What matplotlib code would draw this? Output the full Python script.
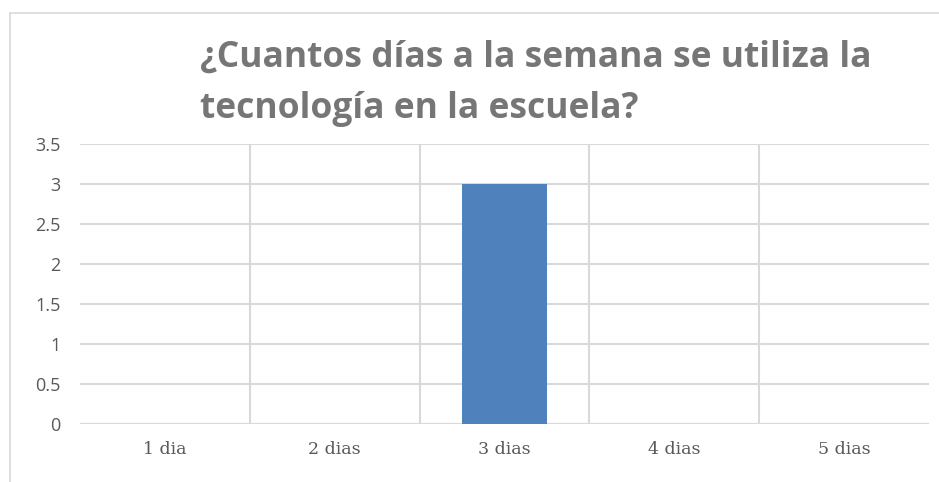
import matplotlib
matplotlib.use('Agg')
import matplotlib.pyplot as plt
from matplotlib.lines import Line2D

categories = ['1 dia', '2 dias', '3 dias', '4 dias', '5 dias']
values = [0, 0, 3, 0, 0]
yticks = [0, 0.5, 1, 1.5, 2, 2.5, 3, 3.5]
ytick_labels = ['0', '0.5', '1', '1.5', '2', '2.5', '3', '3.5']
title = '¿Cuantos días a la semana se utiliza la\ntecnología en la escuela?'

W, H = 939, 482
fig = plt.figure(figsize=(W / 100, H / 100), dpi=100)
fig.patch.set_facecolor('white')

# plot area in pixels: x 80..929, y 144..424
ax = fig.add_axes([80 / W, 1 - 424 / H, 849 / W, 280 / H])

grid_c = '#d9d9d9'
text_c = '#595959'
x = list(range(len(categories)))
ax.bar(x, values, width=0.5, color='#4f81bd', zorder=3)

ax.set_xlim(-0.5, len(categories) - 0.5)
ax.set_ylim(0, 3.5)
ax.set_yticks(yticks)
ax.set_yticklabels(ytick_labels, fontsize=13, color=text_c, family='Open Sans')
ax.set_xticks(x)
ax.set_xticklabels(categories, fontsize=12.5, color=text_c, family='DejaVu Serif')
ax.tick_params(length=0, pad=14, axis='y')
ax.tick_params(length=0, pad=12, axis='x')

ax.yaxis.grid(True, color=grid_c, linewidth=1.5, zorder=0)
for b in [i + 0.5 for i in x[:-1]]:
    ax.axvline(b, color=grid_c, linewidth=1.5, zorder=0)
for s in ax.spines.values():
    s.set_visible(False)
ax.axhline(0, color=grid_c, linewidth=1.5, zorder=1)

fig.text(200 / W, 1 - 40 / H, title, ha='left', va='top', fontsize=25.5,
         fontweight='bold', color='#767676', family='Open Sans', linespacing=1.55)

# outer chart border (top and left visible)
fig.add_artist(Line2D([10 / W, 1], [1 - 13 / H, 1 - 13 / H], color='#d9d9d9', lw=1.2,
                      transform=fig.transFigure))
fig.add_artist(Line2D([10 / W, 10 / W], [0, 1 - 13 / H], color='#d9d9d9', lw=1.2,
                      transform=fig.transFigure))

fig.savefig('out.png', dpi=100)
